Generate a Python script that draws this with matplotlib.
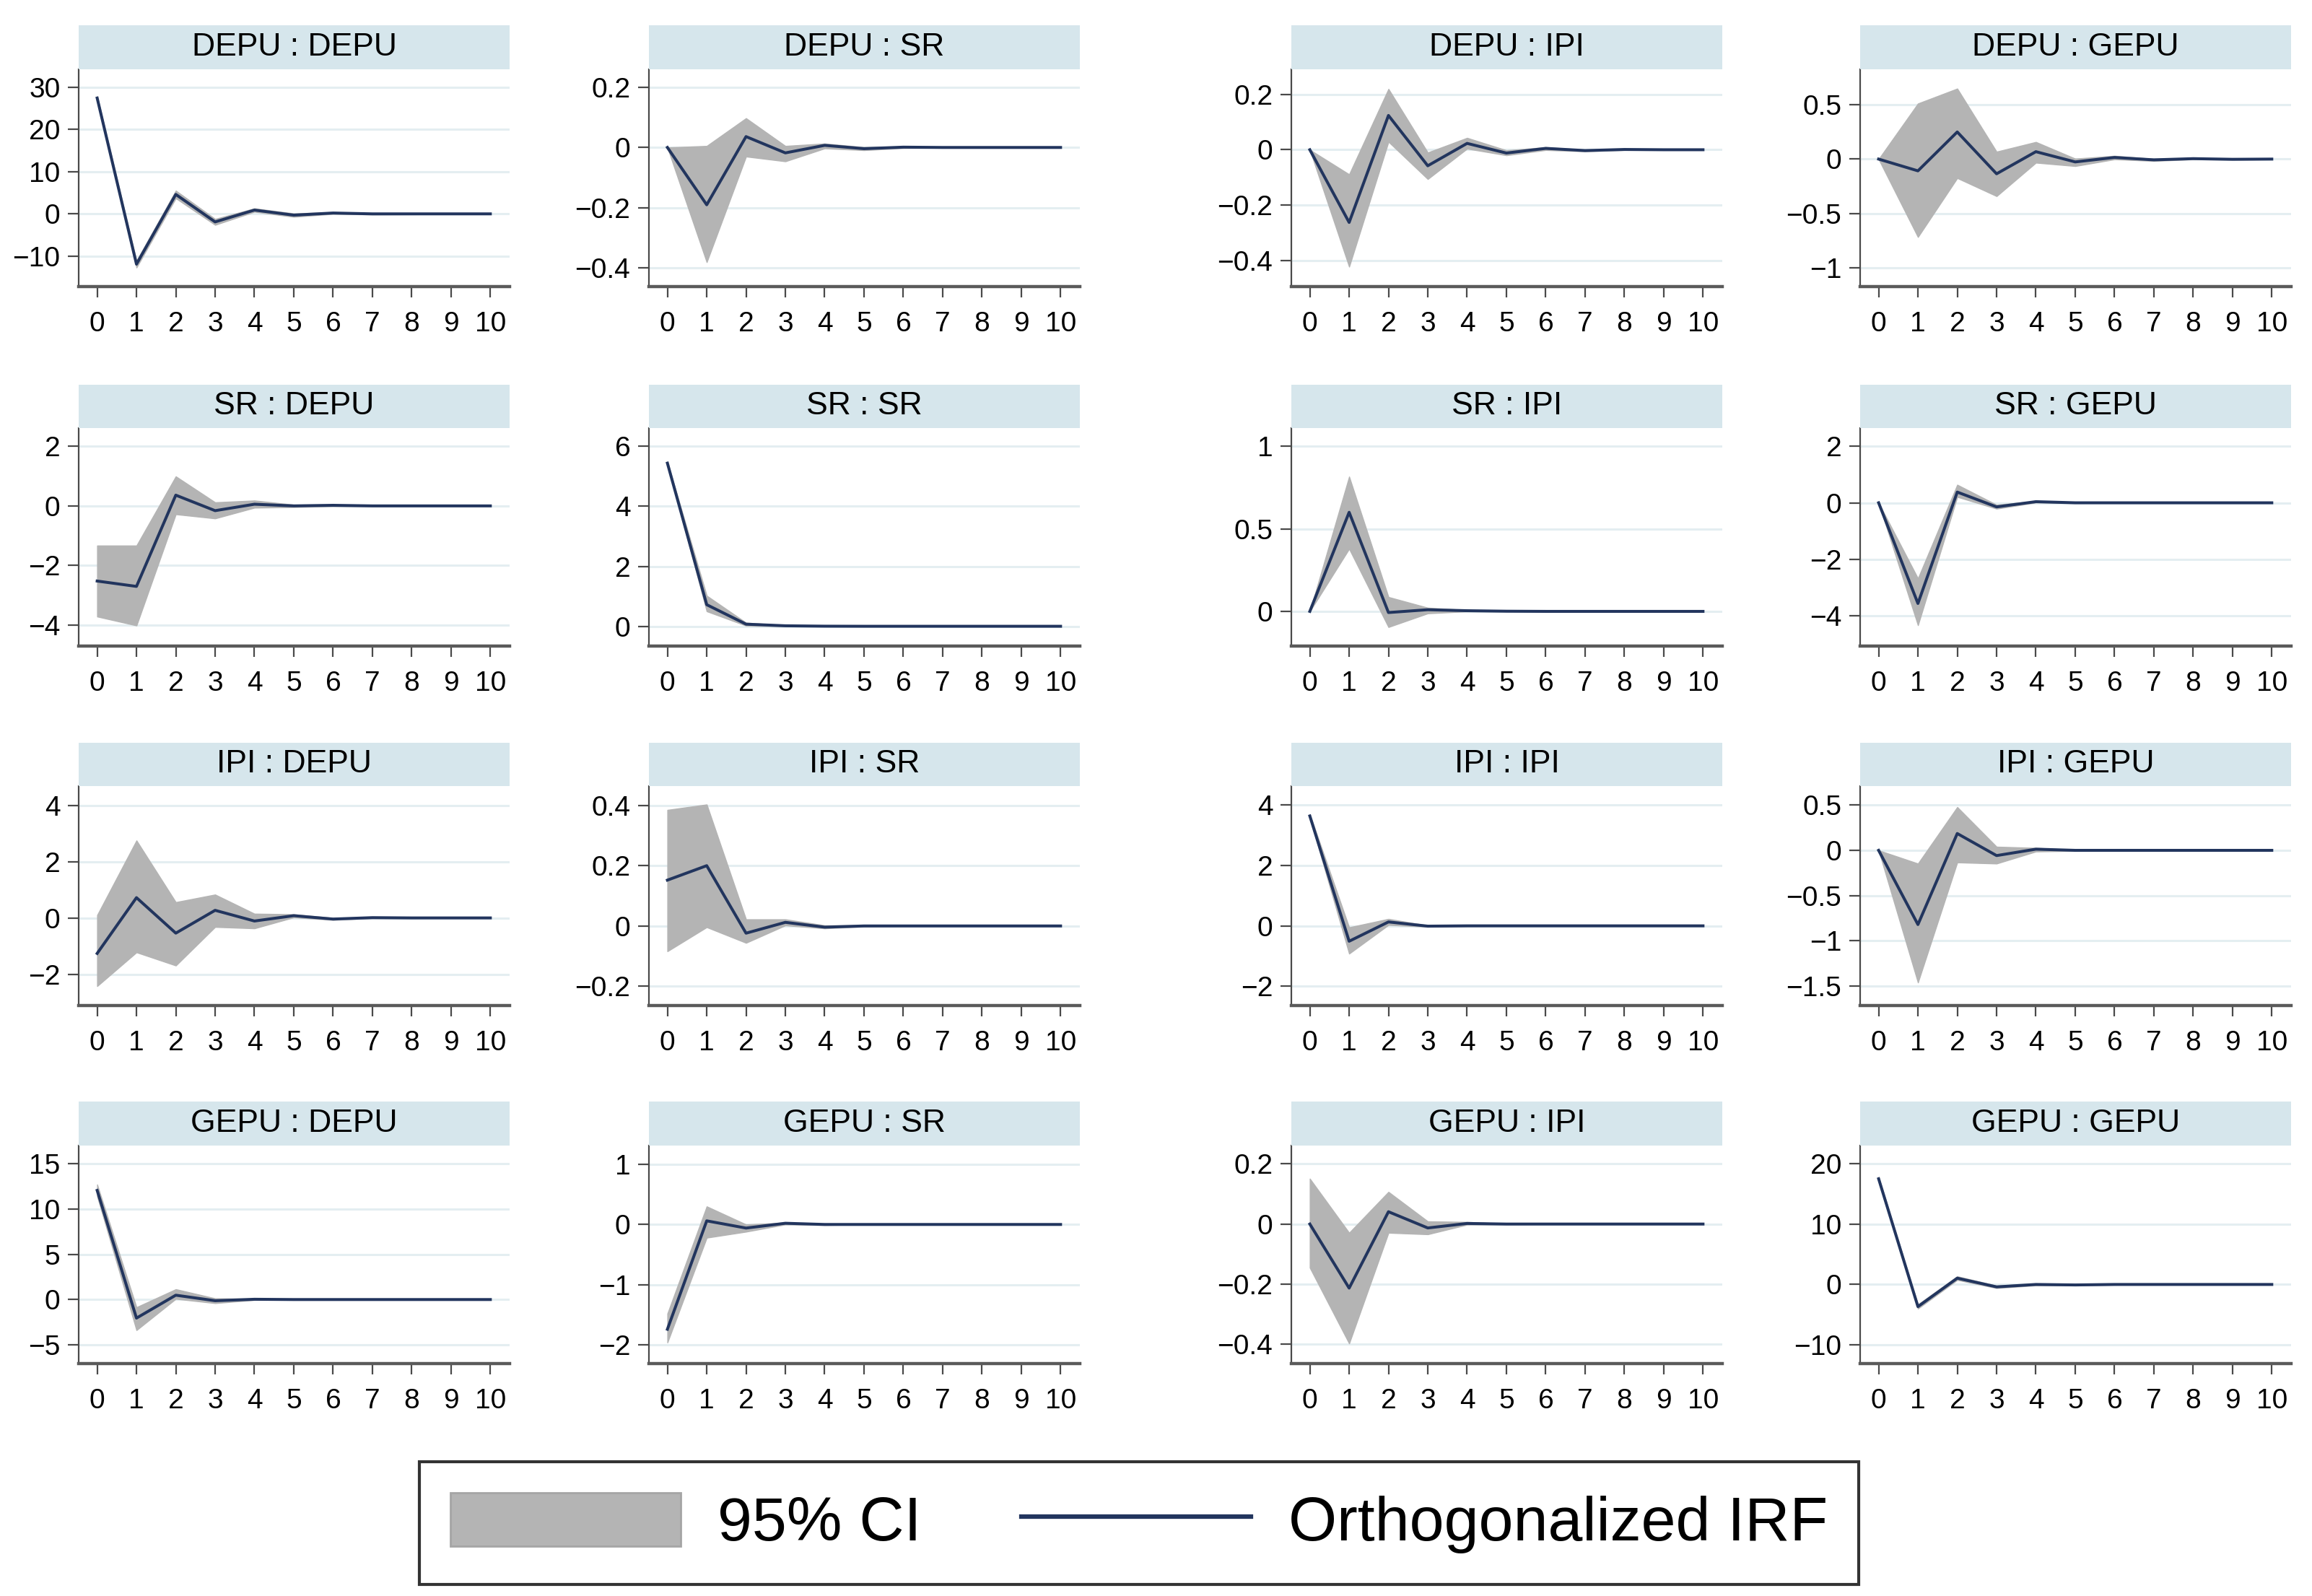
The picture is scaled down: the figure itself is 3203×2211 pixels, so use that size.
import matplotlib
matplotlib.use("Agg")
import matplotlib.pyplot as plt
from matplotlib.patches import Patch
from matplotlib.lines import Line2D
from matplotlib.ticker import FixedLocator, FuncFormatter

plt.rcParams["font.family"] = ["Liberation Sans", "DejaVu Sans"]

STEPS = [0, 1, 2, 3, 4, 5, 6, 7, 8, 9, 10]

# impulse : response -> orthogonalized IRF, lower / upper 95% CI
depu_depu_irf = [27.4, -11.9, 4.6, -1.9, 0.9, -0.3, 0.2, 0.0, 0.0, 0.0, 0.0]
depu_depu_lo = [27.0, -12.7, 3.7, -2.6, 0.5, -0.7, 0.0, -0.15, -0.1, -0.05, -0.05]
depu_depu_hi = [27.8, -11.1, 5.5, -1.2, 1.3, 0.1, 0.4, 0.15, 0.1, 0.05, 0.05]

depu_sr_irf = [0.0, -0.19, 0.036, -0.018, 0.007, -0.004, 0.001, 0.0, 0.0, 0.0, 0.0]
depu_sr_lo = [0.0, -0.38, -0.03, -0.046, -0.003, -0.009, -0.002, -0.001, 0.0, 0.0, 0.0]
depu_sr_hi = [0.0, 0.005, 0.097, 0.005, 0.013, 0.001, 0.003, 0.001, 0.0, 0.0, 0.0]

depu_ipi_irf = [0.0, -0.263, 0.124, -0.058, 0.023, -0.012, 0.005, -0.003, 0.001, 0.0, 0.0]
depu_ipi_lo = [0.0, -0.423, 0.029, -0.106, 0.004, -0.02, -0.001, -0.006, -0.001, 0.0, 0.0]
depu_ipi_hi = [0.0, -0.089, 0.22, -0.01, 0.043, -0.002, 0.009, 0.0, 0.003, 0.001, 0.0]

depu_gepu_irf = [0.0, -0.108, 0.249, -0.135, 0.068, -0.026, 0.015, -0.007, 0.004, -0.002, 0.0]
depu_gepu_lo = [0.0, -0.715, -0.174, -0.34, -0.033, -0.064, -0.002, -0.017, -0.002, -0.005, -0.002]
depu_gepu_hi = [0.0, 0.51, 0.647, 0.068, 0.157, 0.004, 0.03, 0.002, 0.01, 0.002, 0.002]

sr_depu_irf = [-2.52, -2.70, 0.36, -0.16, 0.056, 0.0, 0.02, 0.0, 0.0, 0.0, 0.0]
sr_depu_lo = [-3.71, -4.01, -0.28, -0.42, -0.06, -0.04, -0.01, -0.01, 0.0, 0.0, 0.0]
sr_depu_hi = [-1.33, -1.33, 0.99, 0.12, 0.18, 0.04, 0.04, 0.01, 0.0, 0.0, 0.0]

sr_sr_irf = [5.44, 0.72, 0.07, 0.016, 0.003, 0.0, 0.0, 0.0, 0.0, 0.0, 0.0]
sr_sr_lo = [5.40, 0.50, 0.02, 0.0, -0.005, 0.0, 0.0, 0.0, 0.0, 0.0, 0.0]
sr_sr_hi = [5.48, 1.02, 0.12, 0.03, 0.01, 0.0, 0.0, 0.0, 0.0, 0.0, 0.0]

sr_ipi_irf = [0.0, 0.60, -0.007, 0.01, 0.004, 0.001, 0.0, 0.0, 0.0, 0.0, 0.0]
sr_ipi_lo = [0.0, 0.379, -0.095, -0.012, 0.0, 0.0, 0.0, 0.0, 0.0, 0.0, 0.0]
sr_ipi_hi = [0.0, 0.816, 0.087, 0.022, 0.008, 0.002, 0.0, 0.0, 0.0, 0.0, 0.0]

sr_gepu_irf = [0.0, -3.57, 0.38, -0.145, 0.04, 0.0, 0.0, 0.0, 0.0, 0.0, 0.0]
sr_gepu_lo = [0.0, -4.34, 0.21, -0.21, 0.01, -0.01, 0.0, 0.0, 0.0, 0.0, 0.0]
sr_gepu_hi = [0.0, -2.68, 0.64, -0.07, 0.06, 0.01, 0.0, 0.0, 0.0, 0.0, 0.0]

ipi_depu_irf = [-1.26, 0.72, -0.54, 0.27, -0.11, 0.08, -0.04, 0.01, 0.0, 0.0, 0.0]
ipi_depu_lo = [-2.42, -1.22, -1.69, -0.32, -0.37, 0.02, -0.07, -0.01, -0.01, 0.0, 0.0]
ipi_depu_hi = [0.10, 2.75, 0.56, 0.83, 0.15, 0.13, 0.0, 0.03, 0.01, 0.0, 0.0]

ipi_sr_irf = [0.152, 0.20, -0.024, 0.012, -0.004, 0.0, 0.0, 0.0, 0.0, 0.0, 0.0]
ipi_sr_lo = [-0.084, -0.004, -0.056, 0.002, -0.008, -0.002, 0.0, 0.0, 0.0, 0.0, 0.0]
ipi_sr_hi = [0.385, 0.403, 0.022, 0.022, 0.002, 0.002, 0.0, 0.0, 0.0, 0.0, 0.0]

ipi_ipi_irf = [3.64, -0.51, 0.13, -0.01, 0.0, 0.0, 0.0, 0.0, 0.0, 0.0, 0.0]
ipi_ipi_lo = [3.58, -0.92, 0.03, -0.03, -0.01, 0.0, 0.0, 0.0, 0.0, 0.0, 0.0]
ipi_ipi_hi = [3.70, -0.05, 0.23, 0.01, 0.01, 0.0, 0.0, 0.0, 0.0, 0.0, 0.0]

ipi_gepu_irf = [0.0, -0.82, 0.186, -0.058, 0.013, 0.0, 0.0, 0.0, 0.0, 0.0, 0.0]
ipi_gepu_lo = [0.0, -1.46, -0.133, -0.146, -0.013, -0.005, 0.0, 0.0, 0.0, 0.0, 0.0]
ipi_gepu_hi = [0.0, -0.146, 0.478, 0.04, 0.027, 0.005, 0.0, 0.0, 0.0, 0.0, 0.0]

gepu_depu_irf = [12.05, -2.05, 0.48, -0.13, 0.03, 0.0, 0.0, 0.0, 0.0, 0.0, 0.0]
gepu_depu_lo = [11.4, -3.38, 0.08, -0.4, -0.05, -0.03, 0.0, 0.0, 0.0, 0.0, 0.0]
gepu_depu_hi = [12.7, -0.85, 1.14, 0.13, 0.08, 0.03, 0.0, 0.0, 0.0, 0.0, 0.0]

gepu_sr_irf = [-1.74, 0.06, -0.06, 0.02, 0.0, 0.0, 0.0, 0.0, 0.0, 0.0, 0.0]
gepu_sr_lo = [-1.96, -0.22, -0.12, 0.0, -0.01, 0.0, 0.0, 0.0, 0.0, 0.0, 0.0]
gepu_sr_hi = [-1.48, 0.30, 0.0, 0.03, 0.01, 0.0, 0.0, 0.0, 0.0, 0.0, 0.0]

gepu_ipi_irf = [0.0, -0.213, 0.041, -0.013, 0.002, 0.0, 0.0, 0.0, 0.0, 0.0, 0.0]
gepu_ipi_lo = [-0.145, -0.397, -0.029, -0.034, -0.002, -0.001, 0.0, 0.0, 0.0, 0.0, 0.0]
gepu_ipi_hi = [0.151, -0.029, 0.107, 0.009, 0.007, 0.001, 0.0, 0.0, 0.0, 0.0, 0.0]

gepu_gepu_irf = [17.5, -3.67, 1.04, -0.4, 0.0, -0.08, 0.0, 0.0, 0.0, 0.0, 0.0]
gepu_gepu_lo = [17.2, -4.0, 0.75, -0.6, -0.15, -0.15, -0.05, 0.0, 0.0, 0.0, 0.0]
gepu_gepu_hi = [17.8, -3.3, 1.35, -0.2, 0.15, 0.0, 0.05, 0.0, 0.0, 0.0, 0.0]

# y tick labels per panel (row by row)
YTICKS = [
    [-10, 0, 10, 20, 30], [-0.4, -0.2, 0, 0.2], [-0.4, -0.2, 0, 0.2], [-1, -0.5, 0, 0.5],
    [-4, -2, 0, 2], [0, 2, 4, 6], [0, 0.5, 1], [-4, -2, 0, 2],
    [-2, 0, 2, 4], [-0.2, 0, 0.2, 0.4], [-2, 0, 2, 4], [-1.5, -1, -0.5, 0, 0.5],
    [-5, 0, 5, 10, 15], [-2, -1, 0, 1], [-0.4, -0.2, 0, 0.2], [-10, 0, 10, 20],
]
YLIMS = [
    (-17.2, 34.2), (-0.461, 0.259), (-0.495, 0.291), (-1.17, 0.824),
    (-4.70, 2.61), (-0.66, 6.61), (-0.21, 1.11), (-5.08, 2.65),
    (-3.11, 4.68), (-0.264, 0.464), (-2.64, 4.63), (-1.715, 0.71),
    (-7.07, 17.0), (-2.31, 1.31), (-0.464, 0.261), (-13.1, 23.0),
]

PANELS = [
    ("DEPU : DEPU", depu_depu_irf, depu_depu_lo, depu_depu_hi),
    ("DEPU : SR", depu_sr_irf, depu_sr_lo, depu_sr_hi),
    ("DEPU : IPI", depu_ipi_irf, depu_ipi_lo, depu_ipi_hi),
    ("DEPU : GEPU", depu_gepu_irf, depu_gepu_lo, depu_gepu_hi),
    ("SR : DEPU", sr_depu_irf, sr_depu_lo, sr_depu_hi),
    ("SR : SR", sr_sr_irf, sr_sr_lo, sr_sr_hi),
    ("SR : IPI", sr_ipi_irf, sr_ipi_lo, sr_ipi_hi),
    ("SR : GEPU", sr_gepu_irf, sr_gepu_lo, sr_gepu_hi),
    ("IPI : DEPU", ipi_depu_irf, ipi_depu_lo, ipi_depu_hi),
    ("IPI : SR", ipi_sr_irf, ipi_sr_lo, ipi_sr_hi),
    ("IPI : IPI", ipi_ipi_irf, ipi_ipi_lo, ipi_ipi_hi),
    ("IPI : GEPU", ipi_gepu_irf, ipi_gepu_lo, ipi_gepu_hi),
    ("GEPU : DEPU", gepu_depu_irf, gepu_depu_lo, gepu_depu_hi),
    ("GEPU : SR", gepu_sr_irf, gepu_sr_lo, gepu_sr_hi),
    ("GEPU : IPI", gepu_ipi_irf, gepu_ipi_lo, gepu_ipi_hi),
    ("GEPU : GEPU", gepu_gepu_irf, gepu_gepu_lo, gepu_gepu_hi),
]

W, H = 3203, 2211
# layout in pixels: (strip top, strip bottom, x axis) per row, left edge per column
ROWS_PX = [(35, 96, 397), (533, 593, 895), (1029, 1089, 1393), (1526, 1587, 1889)]
COLS_PX = [109, 899, 1789, 2577]
PANEL_W = 597

LINE_COLOR = "#22355e"
CI_COLOR = "#b4b4b4"
STRIP_COLOR = "#d6e6ec"
GRID_COLOR = "#e4eef1"
AXIS_COLOR = "#4a4a4a"


def fmt_tick(v, _pos=None):
    s = f"{v:g}"
    return s.replace("-", "\u2212")


fig = plt.figure(figsize=(W / 100, H / 100), dpi=100)

for i, (title, irf, lo, hi) in enumerate(PANELS):
    r, c = divmod(i, 4)
    top, sbot, abot = ROWS_PX[r]
    left = COLS_PX[c]

    ax = fig.add_axes([left / W, 1 - abot / H, PANEL_W / W, (abot - sbot) / H])
    ax.fill_between(STEPS, lo, hi, color=CI_COLOR, edgecolor=CI_COLOR, linewidth=1, zorder=2)
    ax.plot(STEPS, irf, color=LINE_COLOR, linewidth=2.9, zorder=3)

    ax.set_xlim(-0.47, 10.49)
    ax.set_ylim(*YLIMS[i])
    ax.xaxis.set_major_locator(FixedLocator(STEPS))
    ax.yaxis.set_major_locator(FixedLocator(YTICKS[i]))
    ax.yaxis.set_major_formatter(FuncFormatter(fmt_tick))
    ax.grid(axis="y", color=GRID_COLOR, linewidth=2.2, zorder=0)
    ax.set_axisbelow(True)

    for side in ("top", "right"):
        ax.spines[side].set_visible(False)
    ax.spines["left"].set_color(AXIS_COLOR)
    ax.spines["left"].set_linewidth(1.6)
    ax.spines["bottom"].set_color("#5a5a5a")
    ax.spines["bottom"].set_linewidth(3.2)
    ax.tick_params(axis="both", direction="out", length=10.5, width=1.6,
                   color=AXIS_COLOR, labelsize=28, labelcolor="black")
    ax.tick_params(axis="x", pad=14)
    ax.tick_params(axis="y", pad=8)

    sax = fig.add_axes([left / W, 1 - sbot / H, PANEL_W / W, (sbot - top) / H])
    sax.set_facecolor(STRIP_COLOR)
    sax.set_xticks([])
    sax.set_yticks([])
    for sp in sax.spines.values():
        sp.set_visible(False)
    sax.text(0.5, 0.5, title, ha="center", va="center", fontsize=32, transform=sax.transAxes)

handles = [
    Patch(facecolor=CI_COLOR, edgecolor="#a5a5a5", linewidth=2),
    Line2D([0], [0], color=LINE_COLOR, linewidth=4.5),
]
leg = fig.legend(handles, ["95% CI", "Orthogonalized IRF"], loc="center",
                 bbox_to_anchor=(1578 / W, 1 - 2110 / H), ncol=2, fontsize=62,
                 frameon=True, fancybox=False, edgecolor="black",
                 handlelength=3.7, handleheight=0.95, handletextpad=0.6,
                 columnspacing=1.6, borderpad=0.5)
leg.get_frame().set_linewidth(3)

fig.savefig("out.png", dpi=100, facecolor="white")
